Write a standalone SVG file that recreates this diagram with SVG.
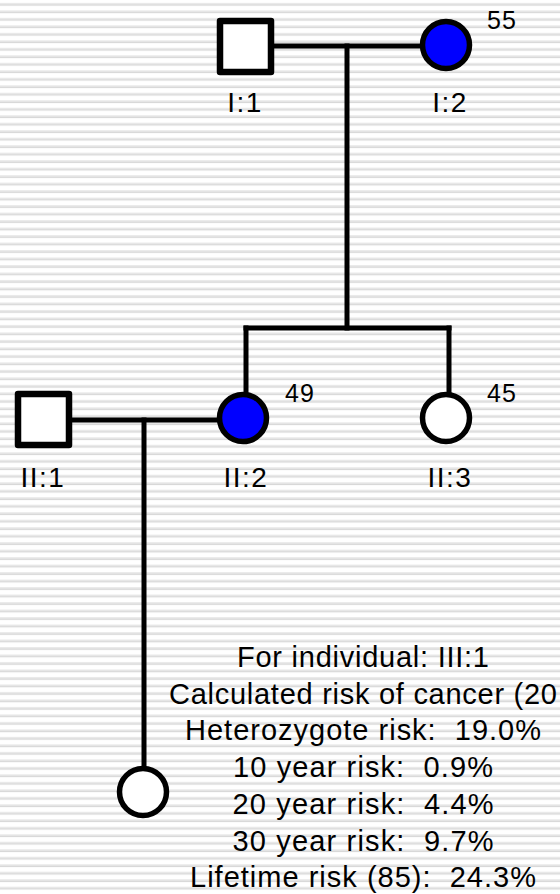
<svg xmlns="http://www.w3.org/2000/svg" width="560" height="894" viewBox="0 0 560 894">
<defs>
<pattern id="stripes" x="0" y="0" width="560" height="7.49" patternUnits="userSpaceOnUse">
<rect x="0" y="0" width="560" height="7.49" fill="#ffffff"/>
<rect x="0" y="3" width="560" height="1.2" fill="#e6e6e6"/>
<rect x="0" y="4.2" width="560" height="1.5" fill="#d8d8d8"/>
</pattern>
<style>
.ln{stroke:#000;stroke-width:5;fill:none;stroke-linecap:square}
.male{fill:#fff;stroke:#000;stroke-width:6.5;stroke-linejoin:round}
.fem{fill:#fff;stroke:#000;stroke-width:5.5}
.aff{fill:#0000ff}
.lbl{font-family:"Liberation Sans",Arial,sans-serif;font-size:28px;fill:#000;text-anchor:middle;letter-spacing:1.5px}
.age{font-family:"Liberation Sans",Arial,sans-serif;font-size:25px;fill:#000;letter-spacing:1px}
.info{font-family:"Liberation Sans",Arial,sans-serif;font-size:29px;fill:#000;text-anchor:middle;white-space:pre}
</style>
</defs>
<rect width="560" height="894" fill="url(#stripes)"/>
<g id="connectors">
<line class="ln" x1="271" y1="46" x2="422" y2="46"/>
<line class="ln" x1="347" y1="46" x2="347" y2="328"/>
<line class="ln" x1="246" y1="328" x2="449" y2="328"/>
<line class="ln" x1="246" y1="328" x2="246" y2="394"/>
<line class="ln" x1="449" y1="328" x2="449" y2="394"/>
<line class="ln" x1="72" y1="420" x2="218" y2="420"/>
<line class="ln" x1="144" y1="420" x2="144" y2="768"/>
</g>
<g id="I-1">
<rect class="male" x="220" y="21" width="51" height="51"/>
<text class="lbl" x="245" y="112">I:1</text>
</g>
<g id="I-2">
<circle class="fem aff" cx="446" cy="45" r="23.5"/>
<text class="age" x="487" y="29">55</text>
<text class="lbl" x="450" y="112">I:2</text>
</g>
<g id="II-1">
<rect class="male" x="18" y="394" width="51" height="51"/>
<text class="lbl" x="43" y="487">II:1</text>
</g>
<g id="II-2">
<circle class="fem aff" cx="243" cy="418" r="23.5"/>
<text class="age" x="285" y="402">49</text>
<text class="lbl" x="246" y="487">II:2</text>
</g>
<g id="II-3">
<circle class="fem" cx="446" cy="418" r="23.5"/>
<text class="age" x="487" y="402">45</text>
<text class="lbl" x="450" y="487">II:3</text>
</g>
<g id="III-1">
<circle class="fem" cx="143" cy="792" r="23.5"/>
</g>
<g id="risk-info">
<text class="info" x="363" y="667" textLength="252" lengthAdjust="spacing">For individual: III:1</text>
<text class="info" x="363" y="704" textLength="388" lengthAdjust="spacing">Calculated risk of cancer (20</text>
<text class="info" x="363" y="740" textLength="356" lengthAdjust="spacing">Heterozygote risk:  19.0%</text>
<text class="info" x="363" y="777" textLength="260" lengthAdjust="spacing">10 year risk:  0.9%</text>
<text class="info" x="363" y="814" textLength="261" lengthAdjust="spacing">20 year risk:  4.4%</text>
<text class="info" x="363" y="851" textLength="261" lengthAdjust="spacing">30 year risk:  9.7%</text>
<text class="info" x="363" y="887" textLength="346" lengthAdjust="spacing">Lifetime risk (85):  24.3%</text>
</g>
</svg>
